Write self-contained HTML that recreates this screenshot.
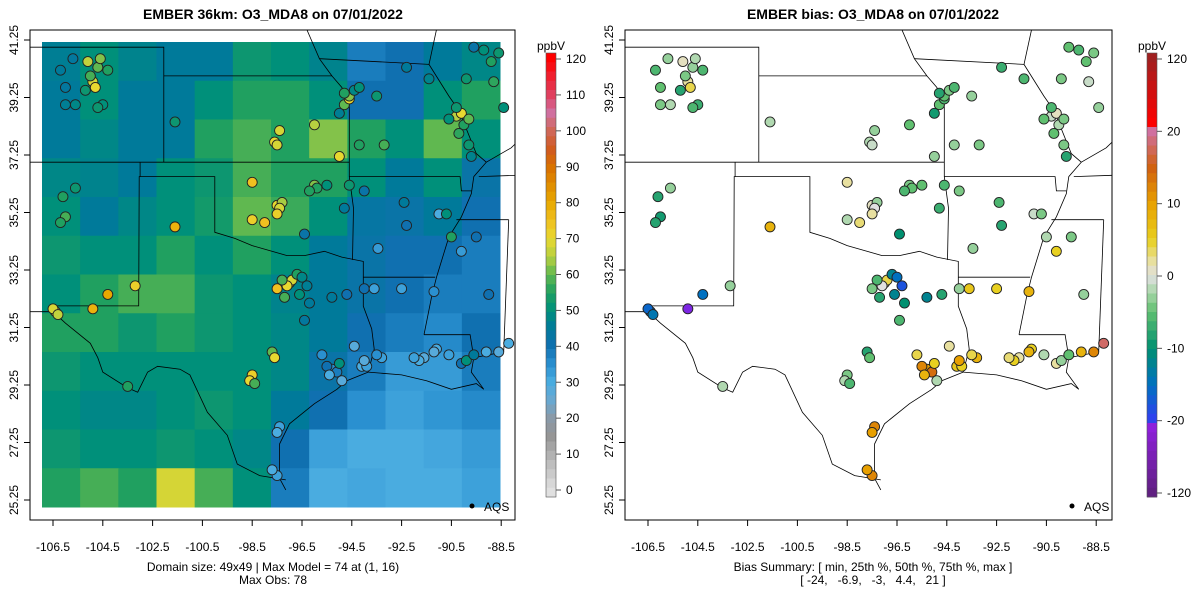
<!DOCTYPE html>
<html><head><meta charset="utf-8">
<style>
html,body{margin:0;padding:0;background:#fff;}
svg{display:block;font-family:"Liberation Sans",sans-serif;}
</style></head>
<body>
<svg id="chart" width="1200" height="600" viewBox="0 0 1200 600">
<defs>
<clipPath id="clipL"><rect x="30" y="30" width="485" height="490"/></clipPath>
<clipPath id="clipR"><rect x="625" y="30" width="487" height="490"/></clipPath>
</defs>
<text x="273" y="19" text-anchor="middle" font-size="14" font-weight="bold">EMBER 36km: O3_MDA8 on 07/01/2022</text>
<text x="873" y="19" text-anchor="middle" font-size="14" font-weight="bold">EMBER bias: O3_MDA8 on 07/01/2022</text>
<g id="gridL" clip-path="url(#clipL)"></g>
<g id="bordersL" clip-path="url(#clipL)"></g>
<g id="bordersR" clip-path="url(#clipR)"></g>
<g id="ptsL"></g>
<g id="ptsR"></g>
<rect x="30" y="30" width="485" height="490" fill="none" stroke="#000" stroke-width="1"/>
<rect x="625" y="30" width="487" height="490" fill="none" stroke="#000" stroke-width="1"/>
<g id="axes"></g>
<circle cx="472" cy="506" r="2.5" fill="#000"/>
<text x="484" y="511" font-size="12">AQS</text>
<circle cx="1072" cy="506" r="2.5" fill="#000"/>
<text x="1084" y="511" font-size="12">AQS</text>
<text x="273" y="571" text-anchor="middle" font-size="12">Domain size: 49x49 | Max Model = 74 at (1, 16)</text>
<text x="273" y="584" text-anchor="middle" font-size="12">Max Obs: 78</text>
<text x="873" y="571" text-anchor="middle" font-size="12">Bias Summary: [ min, 25th %, 50th %, 75th %, max ]</text>
<text x="873" y="584" text-anchor="middle" font-size="12" xml:space="preserve">[ -24,   -6.9,   -3,   4.4,   21 ]</text>
<g id="cbL"></g>
<g id="cbR"></g>
</svg>
<script>
// ---- data ----
const modelGrid = [
 [46,50,47,45,45,52,50,47,38,40,45,48],
 [45,50,45,45,50,55,55,50,40,40,50,55],
 [45,48,45,45,55,58,55,62,55,50,60,50],
 [48,47,45,50,52,58,55,55,50,45,50,42],
 [50,45,48,50,53,60,57,50,43,42,45,40],
 [52,50,50,55,50,55,50,45,42,40,40,38],
 [50,55,58,58,52,50,47,45,42,40,38,38],
 [55,55,52,55,52,50,48,45,40,38,36,40],
 [52,50,50,50,50,50,48,42,38,33,33,38],
 [50,48,48,50,52,50,45,40,35,32,34,36],
 [52,50,50,52,50,48,40,32,30,30,31,33],
 [55,58,55,68,58,50,38,30,31,30,30,32]
];
const stLon = [-104.9,-105.0,-104.8,-105.1,-104.7,-104.6,-104.3,-105.2,-104.5,-104.7,
 -106.2,-106.0,-105.7,-106.0,-105.6,-106.1,-106.0,-106.2,-105.6,-106.4,-106.5,-106.3,
 -104.3,-104.9,-103.2,-101.6,-103.5,
 -101.6,-97.6,-97.5,-97.4,-96.0,-95.0,-94.8,-94.6,-94.6,-94.8,-94.4,-94.2,
 -94.2,-93.2,-93.5,-95.0,
 -90.3,-90.1,-90.6,-90.3,-90.0,-89.8,-90.2,-89.8,-89.7,
 -89.2,-88.9,-88.6,-89.9,-91.4,-92.3,-88.8,-88.4,-89.6,
 -98.5,-97.5,-97.3,-97.4,-97.5,-98.5,-98.0,-96.0,-95.9,-96.2,-95.5,-94.8,-96.4,-94.6,
 -94.0,-92.3,-92.4,-91.0,-93.45,-90.7,-90.5,-89.5,-90.1,-89.0,
 -97.0,-96.9,-97.1,-97.3,-96.7,-96.5,-97.5,-96.3,-96.6,-97.2,-96.2,-96.4,
 -95.3,-94.7,-94.0,-93.6,-92.5,-91.2,
 -97.7,-97.6,-98.5,-98.6,-98.4,
 -95.3,-95.5,-95.1,-95.4,-95.0,-95.7,-94.9,-94.1,-93.9,-94.0,-93.3,-93.5,-94.4,
 -97.4,-97.5,-97.5,-97.7,
 -91.1,-91.2,-90.1,-89.9,-89.6,-89.1,-88.6,-88.2,-91.6,-91.8,-92.0,-90.6];
const stLat = [39.8,40.0,39.6,40.5,40.3,40.6,40.2,39.5,39.0,38.9,
 40.2,39.6,40.6,39.0,39.0,35.8,35.1,34.9,36.1,31.8,31.9,31.7,
 32.4,31.9,32.7,34.75,29.2,
 38.4,37.7,37.6,38.1,38.3,37.2,39.0,39.2,39.3,39.4,39.5,39.6,
 37.6,37.6,39.3,38.7,
 38.6,38.7,38.5,38.9,38.3,38.5,38.0,37.6,37.2,
 40.9,40.5,40.8,39.9,39.9,40.3,39.8,38.9,41.0,
 36.3,35.5,35.6,35.4,35.2,35.0,34.9,36.2,36.1,36.0,36.2,35.4,34.5,36.2,
 36.0,34.8,35.6,35.2,34.0,35.2,34.4,34.4,33.9,32.4,
 32.8,32.9,32.7,32.9,33.1,33.0,32.6,32.7,32.4,32.3,32.1,31.5,
 32.3,32.4,32.6,32.6,32.6,32.5,
 30.4,30.2,29.6,29.4,29.3,
 29.8,29.9,29.7,29.6,30.0,30.3,29.4,29.9,29.9,30.1,30.2,30.3,30.6,
 27.8,27.6,26.1,26.3,
 30.5,30.4,30.0,30.1,30.3,30.4,30.4,30.7,30.2,30.1,30.2,30.3];
const stObs = [68,58,70,66,60,62,55,52,50,52,
 45,44,44,46,48,55,58,55,52,70,68,66,
 80,78,72,78,55,
 52,70,68,68,65,70,60,70,62,55,48,50,
 55,58,52,46,
 65,70,50,52,55,60,56,52,47,
 50,55,52,52,47,45,56,50,42,
 75,70,64,68,72,72,75,62,55,55,50,45,42,52,
 42,40,45,30,33,50,55,40,33,40,
 72,68,70,58,55,48,75,46,50,58,45,44,
 45,40,40,32,32,35,
 60,70,72,70,58,
 35,40,38,30,50,35,28,30,32,28,32,35,28,
 32,30,32,30,
 30,28,40,50,45,30,28,30,28,30,32,32];
const stBias = [2,-4,4,1,-3,-2,-6,-8,-7,-6,
 -6,-5,-3,-4,-2,-8,-9,-8,-3,-15,-16,-14,
 -15,-24,-3,8,-2,
 -2,-2,-1,-3,-5,-3,-5,-6,-5,-8,-4,-6,
 -3,-4,-3,-9,
 -1,1,-5,-6,-2,-4,-5,-4,-8,
 -6,-5,-4,-4,-6,-7,-1,-3,-5,
 2,1,-3,0,2,-2,3,-4,-5,-6,-5,-7,-10,-6,
 -4,-8,-6,-1,-3,-4,-2,-4,5,-3,
 3,4,0,-6,-12,-15,-4,-18,-12,-8,-10,-6,
 -12,-8,-3,6,5,8,
 -8,-5,-4,-2,-6,
 10,12,14,8,5,4,-2,6,5,10,8,4,2,
 12,10,12,10,
 5,8,2,-3,-5,8,12,18,2,5,3,-2];
const xTicks = [-106.5,-104.5,-102.5,-100.5,-98.5,-96.5,-94.5,-92.5,-90.5,-88.5];
const yTicks = [41.25,39.25,37.25,35.25,33.25,31.25,29.25,27.25,25.25];
const cbLTicks = [0,10,20,30,40,50,60,70,80,90,100,110,120];
const cbRTicks = [-120,-20,-10,0,10,20,120];

// ---- scales ----
const NS='http://www.w3.org/2000/svg';
function X(lon,off){return off+53+(lon+106.5)*24.9;}
function Y(lat){return 40+(41.25-lat)*28.75;}
function hex(c){return [parseInt(c.slice(1,3),16),parseInt(c.slice(3,5),16),parseInt(c.slice(5,7),16)];}
function interp(stops,v){
  if(v<=stops[0][0])return stops[0][1];
  for(let i=1;i<stops.length;i++){
    if(v<=stops[i][0]){const a=stops[i-1],b=stops[i];const t=(v-a[0])/(b[0]-a[0]);
      const A=hex(a[1]),B=hex(b[1]);return 'rgb('+A.map((x,k)=>Math.round(x+(B[k]-x)*t)).join(',')+')';}
  }
  return stops[stops.length-1][1];
}
const stopsL=[[0,'#e0e0e0'],[10,'#b0b0b0'],[15,'#959595'],[20,'#8a9aa8'],[25,'#6aa8d0'],[30,'#4aace0'],[35,'#2a90d0'],[40,'#1070b0'],[45,'#007a9a'],[50,'#00907a'],[55,'#20a060'],[60,'#60b850'],[65,'#b8d040'],[70,'#e8d830'],[75,'#f0c020'],[80,'#e8a800'],[90,'#d87000'],[95,'#d05a20'],[100,'#d06858'],[105,'#d070a0'],[110,'#e04060'],[120,'#ff0000']];
const stopsR=[[-120,'#602080'],[-25,'#9020e0'],[-20,'#3040f0'],[-15,'#0070c0'],[-10,'#009070'],[-5,'#60c070'],[-2,'#b0d8b0'],[0,'#e0e0e0'],[2,'#e8e0a0'],[5,'#e8d020'],[10,'#e8a000'],[15,'#d06010'],[20,'#d070a0'],[25,'#f03050'],[30,'#ff0000'],[120,'#a02020']];
function colL(v){return interp(stopsL,v);}
function colR(v){return interp(stopsR,v);}
function mk(tag,attrs,parent){const e=document.createElementNS(NS,tag);for(const k in attrs)e.setAttribute(k,attrs[k]);parent.appendChild(e);return e;}

// ---- grid ----
const gL=document.getElementById('gridL');
mk('rect',{x:30,y:30,width:485,height:490,fill:'#fff'},gL);
const nr=modelGrid.length,nc=modelGrid[0].length,gx0=42,gx1=500,gy0=42,gy1=507;
modelGrid.forEach((row,r)=>row.forEach((v,c)=>{
  const x0=gx0+(gx1-gx0)*c/nc,x1=gx0+(gx1-gx0)*(c+1)/nc,y0=gy0+(gy1-gy0)*r/nr,y1=gy0+(gy1-gy0)*(r+1)/nr;
  const cell=mk('rect',{x:x0,y:y0,width:x1-x0+0.5,height:y1-y0+0.5,fill:colL(v)},gL);
  
  
}));

// ---- borders ----
const borders=[
 [[-106.6,32.0],[-103.06,32.0],[-103.04,36.5],[-100.0,36.5],[-100.0,34.56],[-99.2,34.35],[-98.5,34.1],[-97.9,33.95],[-97.1,33.75],[-96.4,33.75],[-95.6,33.9],[-94.9,33.7],[-94.04,33.55],[-94.04,31.99],[-93.7,31.2],[-93.6,30.5],[-93.84,29.7]],
 [[-93.84,29.7],[-94.7,29.4],[-95.1,29.1],[-96.0,28.6],[-97.0,27.9],[-97.4,27.2],[-97.4,26.0],[-97.15,25.6]],
 [[-97.15,25.95],[-98.2,26.1],[-99.1,26.5],[-99.5,27.5],[-100.3,28.3],[-101.0,29.6],[-101.4,29.8],[-102.3,29.9],[-102.7,29.7],[-103.1,29.0],[-103.5,29.15],[-104.5,29.7],[-104.7,30.2],[-105.0,30.7],[-106.0,31.4],[-106.5,31.8],[-108.2,31.8]],
 [[-110,37.0],[-103.0,37.0],[-102.05,37.0],[-94.6,37.0]],
 [[-103.0,37.0],[-103.0,36.5]],
 [[-102.05,37.0],[-102.05,41.0],[-110,41.0]],
 [[-102.05,40.0],[-95.3,40.0],[-94.9,39.6],[-94.6,39.1],[-94.6,36.5],[-94.43,35.4],[-94.47,33.6]],
 [[-94.6,36.5],[-90.15,36.5],[-90.1,36.0],[-89.7,36.0]],
 [[-94.04,33.0],[-91.15,33.0]],
 [[-95.8,40.6],[-91.4,40.4]],
 [[-95.3,40.0],[-95.8,40.6],[-96.5,42.0]],
 [[-91.0,42.0],[-91.4,40.4],[-90.6,39.3],[-90.2,38.8],[-89.5,37.3],[-89.1,37.0],[-89.6,36.5],[-89.7,35.9],[-90.1,35.1],[-90.6,34.4],[-91.1,33.0],[-91.3,32.3],[-91.6,31.0]],
 [[-91.6,31.0],[-89.75,31.0],[-89.6,30.2]],
 [[-93.84,29.7],[-92.5,29.6],[-91.5,29.4],[-90.5,29.1],[-89.5,29.3],[-89.2,29.1],[-89.7,29.7],[-89.6,30.2],[-88.4,30.4]],
 [[-88.4,30.4],[-88.2,35.0]],
 [[-90.3,35.0],[-88.2,35.0]],
 [[-89.4,36.5],[-86,36.6]],
 [[-87.5,41.0],[-87.5,38.0],[-88.1,37.5],[-89.1,37.0]]
];
function drawBorders(id,off){
  const g=document.getElementById(id);
  borders.forEach(b=>{
    const p=mk('polyline',{points:b.map(q=>X(q[0],off).toFixed(1)+','+Y(q[1]).toFixed(1)).join(' '),fill:'none',stroke:'#000','stroke-width':0.8},g);
    
    
  });
}
drawBorders('bordersL',0);drawBorders('bordersR',595);

// ---- stations ----
const pL=document.getElementById('ptsL'),pR=document.getElementById('ptsR');
stLon.forEach((lon,i)=>{
  const a=mk('circle',{cx:X(lon,0),cy:Y(stLat[i]),r:5,fill:colL(stObs[i]),stroke:'#222','stroke-width':0.9},pL);
  
  
  const b=mk('circle',{cx:X(lon,595),cy:Y(stLat[i]),r:5,fill:colR(stBias[i]),stroke:'#222','stroke-width':0.9},pR);
  
  
});

// ---- axes ----
const ax=document.getElementById('axes');
[0,595].forEach(off=>{
  xTicks.forEach(t=>{
    const x=X(t,off);
    mk('line',{x1:x,x2:x,y1:520,y2:526,stroke:'#000'},ax);
    const tx=mk('text',{x:x,y:551,'text-anchor':'middle','font-size':12},ax);tx.textContent=t;
    
    
  });
  yTicks.forEach(t=>{
    const y=Y(t),x0=30+off;
    mk('line',{x1:x0,x2:x0-6,y1:y,y2:y,stroke:'#000'},ax);
    const tx=mk('text',{x:x0-12,y:y,'text-anchor':'middle','font-size':12,transform:'rotate(-90 '+(x0-12)+' '+y+')'},ax);tx.textContent=t.toFixed(2);
    
    
  });
});

// ---- colorbars ----
function colorbar(id,x,labels,colfn,posToVal,labelPos){
  const g=document.getElementById(id),top=53,bot=497,n=48;
  for(let i=0;i<n;i++){
    const y0=top+(bot-top)*i/n,y1=top+(bot-top)*(i+1)/n;
    const v=posToVal((y0+y1)/2);
    mk('rect',{x:x,y:y0,width:10,height:y1-y0+0.4,fill:colfn(v)},g);
  }
  mk('rect',{x:x,y:top,width:10,height:bot-top,fill:'none',stroke:'#555','stroke-width':0.6},g);
  labels.forEach((t,i)=>{
    const y=labelPos(t,i);
    mk('line',{x1:x+10,x2:x+15,y1:y,y2:y,stroke:'#555'},g);
    const tx=mk('text',{x:x+20,y:y+4,'font-size':12},g);tx.textContent=t;
    
    
  });
  const u=mk('text',{x:x+5,y:50,'text-anchor':'middle','font-size':12},g);u.textContent='ppbV';
  
  
}
const yL=v=>490-(v/120)*431;
colorbar('cbL',546,cbLTicks,colL,y=>(490-y)/431*120,t=>yL(t));
const yR=i=>493-i*(434/6);
colorbar('cbR',1147,cbRTicks,colR,y=>{
  const f=(493-y)/(434/6);const i=Math.max(0,Math.min(5,Math.floor(f)));const t=f-i;
  return cbRTicks[i]+(cbRTicks[i+1]-cbRTicks[i])*Math.max(0,Math.min(1,t));
},(t,i)=>yR(i));
</script>
</body></html>
